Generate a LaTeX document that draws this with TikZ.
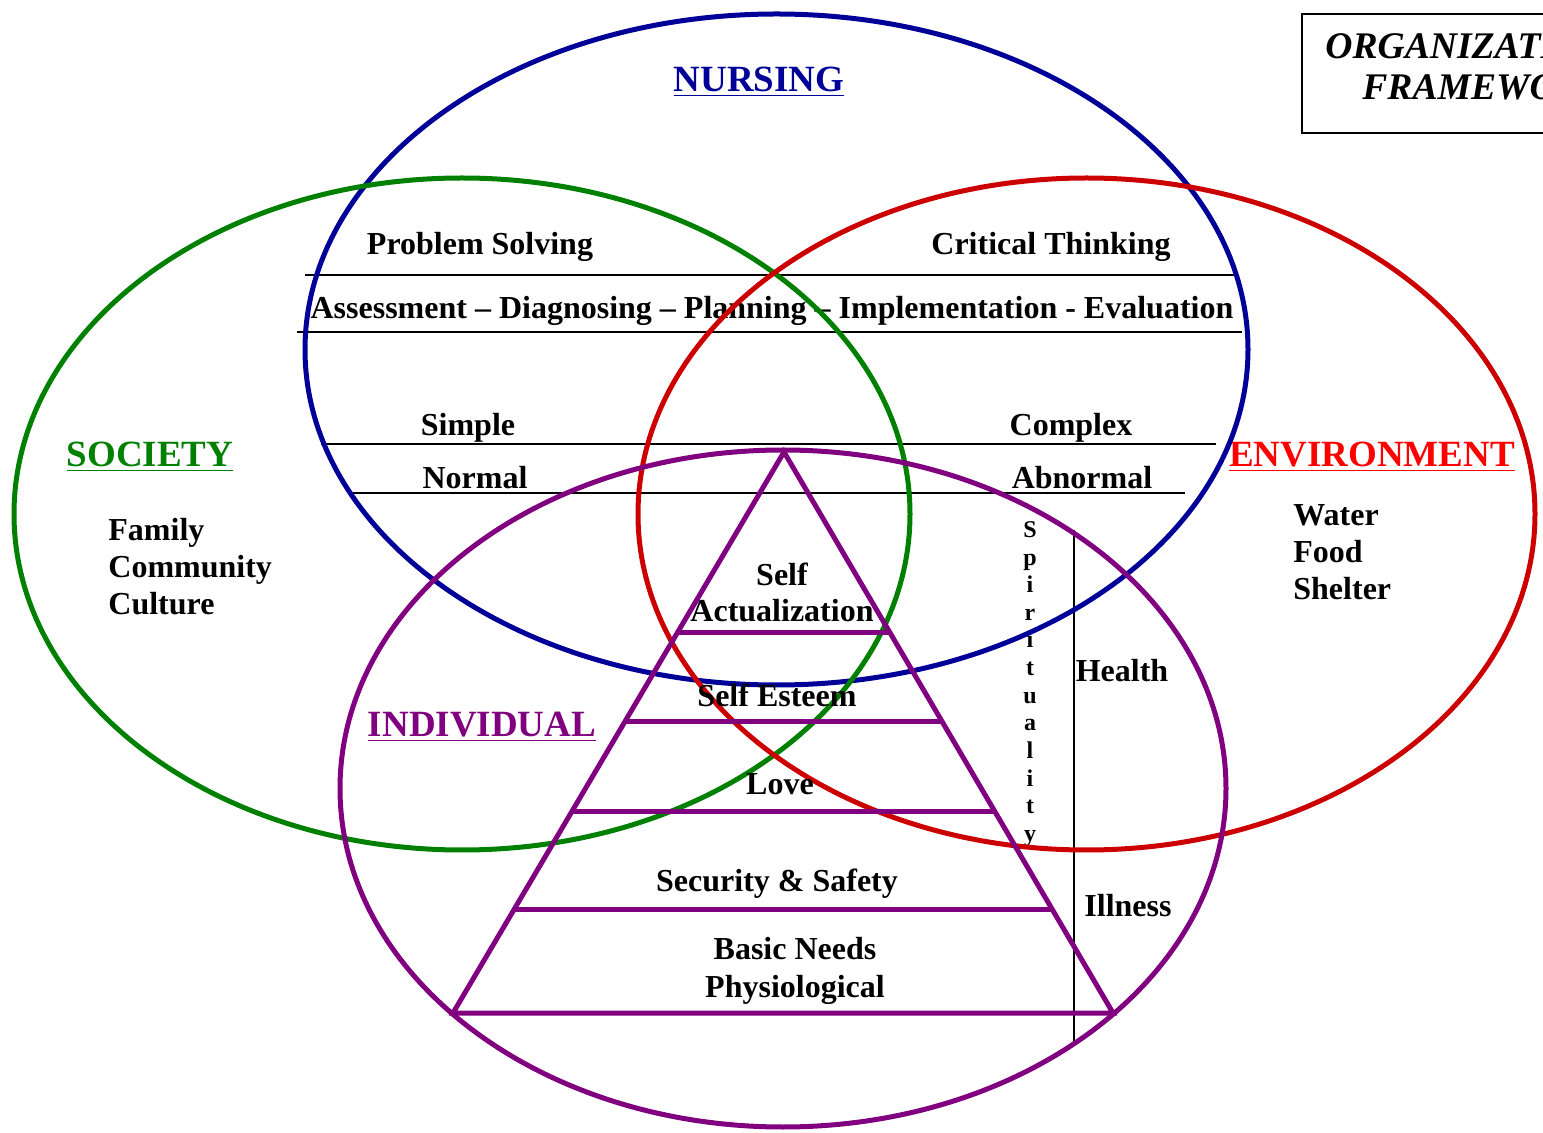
\documentclass[tikz,border=0pt]{standalone}
\usepackage{fontspec}
\setmainfont{Liberation Serif}
\usetikzlibrary{calc}
\definecolor{nursblue}{RGB}{0,0,153}
\definecolor{socgreen}{RGB}{0,128,0}
\definecolor{envred}{RGB}{204,0,0}
\definecolor{titlered}{RGB}{255,0,0}
\definecolor{indpurple}{RGB}{128,0,128}
\tikzset{
  body/.style={font=\bfseries\fontsize{16}{19}\selectfont, inner sep=0pt, anchor=base},
  heading/.style={font=\bfseries\fontsize{18.5}{22}\selectfont, inner sep=0pt, anchor=base},
  titletext/.style={font=\bfseries\itshape\fontsize{18.8}{21}\selectfont, inner sep=0pt, anchor=base west},
  letter/.style={font=\bfseries\fontsize{12}{14}\selectfont, inner sep=0pt, anchor=base},
  ring/.style={line width=2.5pt},
  rule/.style={line width=1pt},
  tier/.style={line width=2.5pt, indpurple},
}
\begin{document}
\begin{tikzpicture}[x=0.5pt,y=-0.5pt]
    \useasboundingbox (0,0) rectangle (1543,1133);
    \clip (0,0) rectangle (1543,1133);

    % title box, runs off the right edge
    \coordinate (boxtl) at (1302,14);
    \coordinate (boxbr) at (1654,133);
    \draw[rule] (boxtl) rectangle (boxbr);
    \node[titletext] (org) at (1325,59) {ORGANIZATIONAL};
    \node[titletext] (frame) at (1362,100) {FRAMEWORK};

    % horizontal rules inside the nursing ring
    \foreach \k/\y/\xa/\xb in {1/275/305/1234, 2/332/297/1242, 3/444/321/1216, 4/493/353/1185} {
      \coordinate (ra\k) at (\xa,\y);
      \coordinate (rb\k) at (\xb,\y);
      \draw[rule] (ra\k) -- (rb\k);
    }
    \coordinate (hitop) at (1074,530);
    \coordinate (hibot) at (1074,1045);
    \draw[rule] (hitop) -- (hibot);

    % process and scale labels
    \node[body] (probsolv) at (480,255) {Problem Solving};
    \node[body] (critthink) at (1051,255) {Critical Thinking};
    \node[body] (process) at (772,319) {Assessment -- Diagnosing -- Planning -- Implementation - Evaluation};
    \node[body] (simple) at (468,436) {Simple};
    \node[body] (complex) at (1071,436) {Complex};
    \node[body] (normal) at (475,489) {Normal};
    \node[body] (abnormal) at (1082,489) {Abnormal};

    % headings
    \node[heading, nursblue] (nursing) at (759,92) {\underline{NURSING}};
    \node[heading, socgreen] (society) at (150,467) {\underline{SOCIETY}};
    \node[heading, titlered] (environment) at (1372,467) {\underline{ENVIRONMENT}};
    \node[heading, indpurple] (individual) at (482,737) {\underline{INDIVIDUAL}};

    \foreach \t [count=\k] in {Family,Community,Culture}
      \node[body, anchor=base west] (soc\k) at (108,504+37*\k) {\t};
    \foreach \t [count=\k] in {Water,Food,Shelter}
      \node[body, anchor=base west] (env\k) at (1293,489+37*\k) {\t};

    \node[body] (health) at (1122,682) {Health};
    \node[body] (illness) at (1128,916) {Illness};
    \foreach \ch [count=\k] in {S,p,i,r,i,t,u,a,l,i,t,y}
      \node[letter] (sp\k) at (1030,510+27.6*\k) {\ch};

    % the four rings
    \coordinate (cn) at (776.5,349.5);
    \coordinate (cs) at (462,514);
    \coordinate (ce) at (1086.5,514);
    \coordinate (ci) at (783,788.5);
    \draw[ring, nursblue] (cn) ellipse [x radius=471.5, y radius=335.5];
    \draw[ring, socgreen] (cs) ellipse [x radius=448, y radius=336];
    \draw[ring, envred] (ce) ellipse [x radius=448.5, y radius=336];
    \draw[ring, indpurple] (ci) ellipse [x radius=443, y radius=338.5];

    % needs pyramid
    \coordinate (apex) at (784,452);
    \coordinate (baseL) at (453,1013);
    \coordinate (baseR) at (1113,1013);
    \draw[tier] (baseL) -- (apex) -- (baseR) -- cycle;
    \foreach \f in {0.321,0.481,0.640,0.815}
      \draw[tier] ($(apex)!\f!(baseL)$) -- ($(apex)!\f!(baseR)$);

    \node[body] (selfa) at (782,586) {Self};
    \node[body] (selfb) at (782,622) {Actualization};
    \node[body] (esteem) at (777,707) {Self Esteem};
    \node[body] (love) at (780,795) {Love};
    \node[body] (safety) at (777,892) {Security \& Safety};
    \node[body] (basic) at (795,959) {Basic Needs};
    \node[body] (physio) at (795,997) {Physiological};
\end{tikzpicture}
\end{document}
